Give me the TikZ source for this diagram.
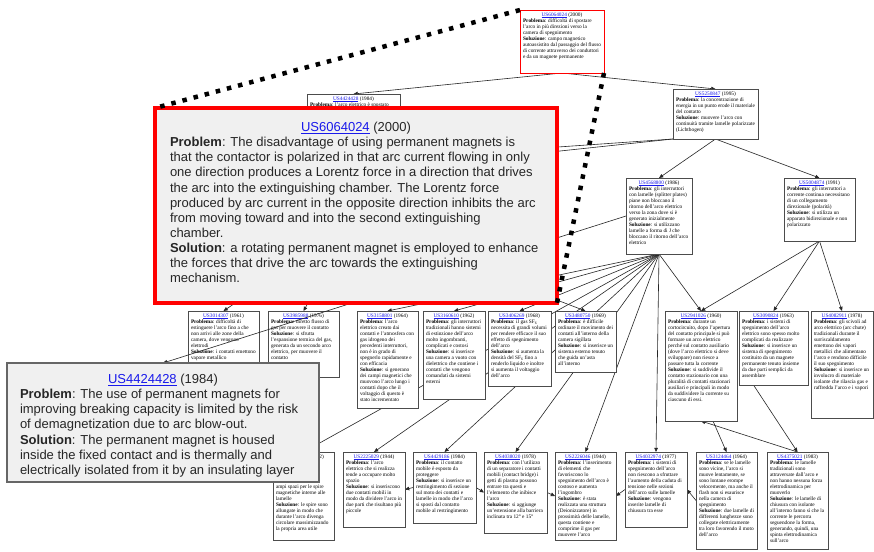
\documentclass[tikz,border=0pt]{standalone}
\usepackage{fontspec}
\setmainfont{Liberation Serif}
\newfontfamily\calloutfont{Liberation Sans}
\usetikzlibrary{arrows.meta}

\definecolor{linkblue}{RGB}{25,25,235}
\definecolor{calloutgray}{RGB}{240,240,240}

\pgfdeclarelayer{edgelayer}
\pgfdeclarelayer{calloutlayer}
\pgfdeclarelayer{zoomlayer}
\pgfsetlayers{edgelayer,main,calloutlayer,zoomlayer}

% small citation card: options, name, left, top, width, height, number, year, body
\newcommand{\citecard}[9]{%
  \node[card,#1] (#2) at (#3,#4) {\parbox[c][\dimexpr#6pt-5pt\relax][t]{\dimexpr#5pt-6pt\relax}{%
    \fontsize{5.3}{6.0}\selectfont
    {\centering\textcolor{linkblue}{\underline{#7}} (#8)\par}%
    \raggedright #9}};%
}
\newcommand{\prob}{\textbf{Problema}: }
\newcommand{\solu}{\par\textbf{Soluzione}: }

\begin{document}
\begin{tikzpicture}[x=1pt,y=-1pt,
  card/.style={draw=black!70, line width=0.9pt, fill=white, anchor=north west,
    inner xsep=3pt, inner ysep=2.5pt, outer sep=0pt},
  callout/.style={fill=calloutgray, anchor=north west, outer sep=0pt, text=black!85},
  link/.style={draw=black!85, line width=0.6pt, -{Triangle[length=4.2pt,width=3.6pt]}},
  zoomline/.style={draw=black, line width=4.5pt, dash pattern=on 4.5pt off 7pt}]

\useasboundingbox (0,0) rectangle (874,551);
\begin{pgfonlayer}{edgelayer}
  \fill[white] (0,0) rectangle (874,551);
\end{pgfonlayer}

% ---- citation tree ----
\citecard{draw=red}{T}{520}{10}{84}{63}{US6064024}{2000}{\prob difficoltà di spostare l'arco in più direzioni verso la camera di spegnimento\solu campo magnetico autoassistito dal passaggio del flusso di corrente attraverso dei conduttori e da un magnete permanente}

\citecard{}{L2a}{307}{94}{93}{128}{US4424428}{1984}{\prob l'arco elettrico è spostato}
\citecard{}{L2b}{673}{89}{85}{50}{US5250847}{1995}{\prob la concentrazione di energia in un punto erode il materiale del contatto\solu muovere l'arco con continuità tramite lamelle polarizzate (Lichtbogen)}

\citecard{}{L3a}{626}{178}{66}{76}{US4568800}{1986}{\prob gli interruttori con lamelle (splitter plates) piane non bloccano il ritorno dell'arco elettrico verso la zona dove si è generato inizialmente\solu si utilizzano lamelle a forma di J che bloccano il ritorno dell'arco elettrico}
\citecard{}{L3b}{784}{178}{71}{63}{US5004874}{1991}{\prob gli interruttori a corrente continua necessitano di un collegamento direzionale (polarità)\solu si utilizza un apparato bidirezionale e non polarizzato}

\citecard{}{n1}{188}{311}{71}{79}{US3014307}{1961}{\prob difficoltà di estinguere l'arco fino a che non arrivi alle zone della camera, dove vengono elettrodi\solu i contatti emettono vapore metallico}
\citecard{}{n2}{268}{311}{71}{66}{US3985988}{1976}{\prob diretto flusso di gas per muovere il contatto\solu si sfrutta l'espansione termica del gas, generata da un secondo arco elettrico, per muovere il contatto}
\citecard{}{n3}{357}{311}{61}{97}{US3158801}{1964}{\prob l'arco elettrico creato dai contatti e l'atmosfera con gas idrogeno dei precedenti interruttori, non è in grado di spegnerlo rapidamente e con efficacia\solu si generano dei campi magnetici che muovono l'arco lungo i contatti dopo che il voltaggio di questo è stato incrementato}
\citecard{}{n4}{423}{311}{62}{88}{US3160610}{1962}{\prob gli interruttori tradizionali hanno sistemi di estinzione dell'arco molto ingombranti, complicati e costosi\solu si inserisce una camera a vuoto con dielettrico che contiene i contatti che vengono comandati da sistemi esterni}
\citecard{}{n5}{488}{311}{63}{75}{US3406269}{1968}{\prob il gas SF\textsubscript{6} necessita di grandi volumi per rendere efficace il suo effetto di spegnimento dell'arco\solu si aumenta la densità del SF\textsubscript{6} fino a renderlo liquido e inoltre si aumenta il voltaggio dell'arco}
\citecard{}{n6}{555}{311}{61}{61}{US3480750}{1969}{\prob è difficile ordinare il movimento dei contatti all'interno della camera sigillata\solu si inserisce un sistema esterno tenuto che guida un'asta all'interno}
\citecard{}{n7}{665}{311}{72}{110}{US2941026}{1960}{\prob durante un cortocircuito, dopo l'apertura del contatto principale si può formare un arco elettrico perché sul contatto ausiliario (dove l'arco elettrico si deve sviluppare) non riesce a passare tutta la corrente\solu si suddivide il contatto stazionario con una pluralità di contatti stazionari ausiliari e principali in modo da suddividere la corrente su ciascuno di essi.}
\citecard{}{n8}{739}{311}{69}{74}{US3090824}{1963}{\prob i sistemi di spegnimento dell'arco elettrico sono spesso molto complicati da realizzare\solu si inserisce un sistema di spegnimento costituito da un magnete permanente tenuto insieme da due parti semplici da assemblare}
\citecard{}{n9}{811}{311}{62}{107}{US4082911}{1978}{\prob gli scivoli ad arco elettrico (arc chute) tradizionali durante il surriscaldamento emettono dei vapori metallici che alimentano l'arco e rendono difficile il suo spegnimento\solu si inserisce un involucro di materiale isolante che rilascia gas e raffredda l'arco e i vapori}

\citecard{}{a}{273}{452}{61}{88}{US4370528}{1982}{\vspace*{24pt}ampi spazi per le spire magnetiche interne alle lamelle\solu le spire sono allungate in modo che durante l'arco divenga circolare massimizzando la propria area utile}
\citecard{}{b}{343}{452}{62}{75}{US2225029}{1944}{\prob l'arco elettrico che si realizza tende a occupare molto spazio\solu si inseriscono due contatti mobili in modo da dividere l'arco in due parti che risultano più piccole}
\citecard{}{c}{413}{452}{63}{71}{US4429186}{1984}{\prob il contatto mobile è esposto da proteggere\solu si inserisce un restringimento di sezione sul moto dei contatti e lamelle in modo che l'arco si sposti dal contatto mobile al restringimento}
\citecard{}{d}{484}{452}{63}{81}{US4038020}{1978}{\prob con l'utilizzo di un separatore i contatti mobili (contact bridge) i getti di plasma possono entrare tra questi e l'elemento che inibisce l'arco\solu si aggiunge un'estensione alla barriera inclinata tra 12° e 15°}
\citecard{}{e}{555}{452}{61}{88}{US2226046}{1944}{\prob l'inserimento di elementi che favoriscono lo spegnimento dell'arco è costoso e aumenta l'ingombro\solu è stata realizzata una struttura (Deionizzatore) in prossimità delle lamelle, questa contiene e comprime il gas per muovere l'arco}
\citecard{}{f}{625}{452}{62}{75}{US4032974}{1977}{\prob i sistemi di spegnimento dell'arco non riescono a sfruttare l'aumento della caduta di tensione nelle sezioni dell'arco sulle lamelle\solu vengono inserite lamelle di chiusura tra esse}
\citecard{}{g}{696}{452}{61}{97}{US3124464}{1964}{\prob se le lamelle sono vicine, l'arco si muove lentamente, se sono lontane erompe velocemente, ma anche il flash non si esaurisce nella camera di spegnimento\solu due lamelle di differenti lunghezze sono collegate elettricamente tra loro favorendo il moto dell'arco}
\citecard{}{h}{767}{452}{61}{97}{US4375021}{1983}{\prob le lamelle tradizionali sono attraversate dall'arco e non hanno nessuna forza elettrodinamica per muoverlo\solu le lamelle di chiusura con isolante all'interno fanno sì che la corrente le percorra seguendone la forma, generando, quindi, una spinta elettrodinamica sull'arco}

% ---- citation links, drawn behind the cards ----
\begin{pgfonlayer}{edgelayer}
  \draw[link] (T.south) -- (L2a.north);
  \draw[link] (T.south) -- (L2b.north);
  \draw[link] (L2b.south west) -- (L2a.east);
  \draw[link] (L2b.south west) -- ([yshift=-10pt]L2a.east);
  \draw[link] (L2b.south) -- (L3a.north);
  \draw[link] (L2b.south) -- (L3b.north);
  \foreach \t in {n1,n2,n6} \draw[link] (L2a.south) -- (\t.north);
  \foreach \t in {n3,n4,n5,n7,a,b,c,d,e,f} \draw[link] (L3a.south) -- (\t.north);
  \foreach \t in {n7,n8,n9} \draw[link] (L3b.south) -- (\t.north);
  \draw[link] (c.west) -- (b.east);
  \draw[link] (c.east) -- (d.west);
  \draw[link] (d.east) -- (e.west);
  \draw[link] (f.west) -- (e.east);
  \draw[link] (g.west) -- (f.east);
  \draw[link] ([xshift=12pt]n7.south) -- (g.north);
  \draw[link] (h.north) -- (n7.south);
  \draw[link] ([xshift=-20pt]n8.south) -- (h.north);
\end{pgfonlayer}

% ---- enlarged callouts ----
\begin{pgfonlayer}{calloutlayer}
\node[callout, draw=red, line width=3.2pt, inner xsep=15pt, inner ysep=14pt] (c1) at (155,108)
  {\parbox[c][167pt][t]{372pt}{\calloutfont\fontsize{13}{15.15}\selectfont
   {\centering\textcolor{linkblue}{\underline{US6064024}} (2000)\par}
   \raggedright
   \textbf{Problem}: The disadvantage of using permanent magnets is\\
   that the contactor is polarized in that arc current flowing in only\\
   one direction produces a Lorentz force in a direction that drives\\
   the arc into the extinguishing chamber. The Lorentz force\\
   produced by arc current in the opposite direction inhibits the arc\\
   from moving toward and into the second extinguishing\\
   chamber.\\
   \textbf{Solution}: a rotating permanent magnet is employed to enhance\\
   the forces that drive the arc towards the extinguishing\\
   mechanism.}};
\node[callout, draw=black!60, line width=1.2pt, inner xsep=13pt, inner ysep=11pt] (c2) at (7,363)
  {\parbox[c][97pt][t]{286pt}{\calloutfont\fontsize{13}{15.15}\selectfont
   {\centering\textcolor{linkblue}{\underline{US4424428}} (1984)\par}
   \raggedright
   \textbf{Problem}: The use of permanent magnets for\\
   improving breaking capacity is limited by the risk\\
   of demagnetization due to arc blow-out.\\
   \textbf{Solution}: The permanent magnet is housed\\
   inside the fixed contact and is thermally and\\
   electrically isolated from it by an insulating layer}};
\end{pgfonlayer}

\draw[link] (L3a.west) -- (c2.north);

% ---- magnification guides ----
\begin{pgfonlayer}{zoomlayer}
  \draw[zoomline] (T.north west) -- (c1.north west);
  \draw[zoomline] (T.south east) -- (c1.south east);
\end{pgfonlayer}
\end{tikzpicture}
\end{document}
